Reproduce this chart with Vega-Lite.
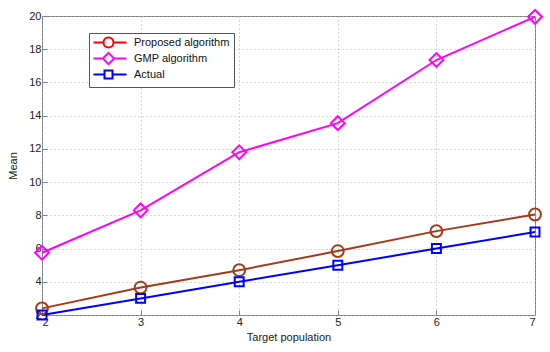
{
  "$schema": "https://vega.github.io/schema/vega-lite/v6.json",
  "width": 493,
  "height": 299,
  "autosize": "none",
  "padding": {"left": 42, "top": 16, "right": 15, "bottom": 37},
  "background": "white",
  "config": {
    "font": "Liberation Sans",
    "view": {"stroke": "#7f7f7f", "strokeWidth": 1},
    "axis": {
      "domain": false,
      "grid": true,
      "gridColor": "#b0b0b0",
      "gridDash": [1, 3],
      "gridWidth": 1,
      "tickColor": "#7f7f7f",
      "tickSize": -5,
      "labelFont": "Liberation Sans",
      "labelFontSize": 11,
      "labelColor": "#222",
      "titleFont": "Liberation Sans",
      "titleFontSize": 11,
      "titleFontWeight": "normal",
      "titleColor": "#222"
    }
  },
  "data": {
    "values": [
      {"x": 2, "y": 2.4, "s": "Proposed algorithm"},
      {"x": 3, "y": 3.65, "s": "Proposed algorithm"},
      {"x": 4, "y": 4.7, "s": "Proposed algorithm"},
      {"x": 5, "y": 5.85, "s": "Proposed algorithm"},
      {"x": 6, "y": 7.05, "s": "Proposed algorithm"},
      {"x": 7, "y": 8.05, "s": "Proposed algorithm"},
      {"x": 2, "y": 5.75, "s": "GMP algorithm"},
      {"x": 3, "y": 8.3, "s": "GMP algorithm"},
      {"x": 4, "y": 11.8, "s": "GMP algorithm"},
      {"x": 5, "y": 13.55, "s": "GMP algorithm"},
      {"x": 6, "y": 17.35, "s": "GMP algorithm"},
      {"x": 7, "y": 19.95, "s": "GMP algorithm"},
      {"x": 2, "y": 2, "s": "Actual"},
      {"x": 3, "y": 3, "s": "Actual"},
      {"x": 4, "y": 4, "s": "Actual"},
      {"x": 5, "y": 5, "s": "Actual"},
      {"x": 6, "y": 6, "s": "Actual"},
      {"x": 7, "y": 7, "s": "Actual"}
    ]
  },
  "encoding": {
    "x": {
      "field": "x", "type": "quantitative",
      "scale": {"domain": [2, 7], "nice": false, "zero": false},
      "axis": {"values": [2, 3, 4, 5, 6, 7], "title": "Target population", "titlePadding": 4, "labelPadding": 6}
    },
    "y": {
      "field": "y", "type": "quantitative",
      "scale": {"domain": [2, 20], "nice": false, "zero": false},
      "axis": {"values": [2, 4, 6, 8, 10, 12, 14, 16, 18, 20], "title": "Mean", "titlePadding": 10, "labelPadding": 6}
    },
    "color": {
      "field": "s", "type": "nominal",
      "scale": {
        "domain": ["Proposed algorithm", "GMP algorithm", "Actual"],
        "range": ["#ff0000", "#ff00ff", "#0000ff"]
      },
      "legend": {
        "title": null,
        "orient": "none",
        "legendX": 47,
        "legendY": 17,
        "fillColor": "white",
        "strokeColor": "#555",
        "padding": 4,
        "labelFont": "Liberation Sans",
        "labelFontSize": 11,
        "labelColor": "#111",
        "symbolSize": 64,
        "labelOffset": 30,
        "rowPadding": -4,
        "encode": {
          "symbols": {
            "update": {
              "shape": {"signal": "datum.value === 'Actual' ? 'M-1.25,0H1.5M3.5,0H7M1.5,-1H3.5V1H1.5Z' : datum.value === 'GMP algorithm' ? 'M-1.25,0H1.1M3.9,0H7M2.5,-1.4L3.9,0L2.5,1.4L1.1,0Z' : 'M-1.25,0H1.25M3.75,0H7M3.75,0A1.25,1.25 0 1 1 1.25,0A1.25,1.25 0 1 1 3.75,0'"},
              "fill": {"value": "transparent"},
              "strokeWidth": {"value": 2},
              "opacity": {"value": 1}
            }
          }
        }
      }
    }
  },
  "layer": [
    {
      "transform": [{"filter": "datum.s !== 'Proposed algorithm'"}],
      "mark": {"type": "line", "strokeWidth": 2}
    },
    {
      "transform": [{"filter": "datum.s === 'Proposed algorithm'"}],
      "mark": {"type": "line", "strokeWidth": 2},
      "encoding": {"color": {"value": "#a23c18"}}
    },
    {
      "transform": [{"filter": "datum.s === 'Proposed algorithm'"}],
      "mark": {"type": "point", "shape": "circle", "size": 140, "filled": false, "strokeWidth": 2, "opacity": 1},
      "encoding": {"color": {"value": "#a23c18"}}
    },
    {
      "transform": [{"filter": "datum.s === 'GMP algorithm'"}],
      "mark": {"type": "point", "shape": "diamond", "size": 190, "filled": false, "strokeWidth": 2, "opacity": 1}
    },
    {
      "transform": [{"filter": "datum.s === 'Actual'"}],
      "mark": {"type": "point", "shape": "square", "size": 80, "filled": false, "strokeWidth": 2, "opacity": 1}
    }
  ]
}
